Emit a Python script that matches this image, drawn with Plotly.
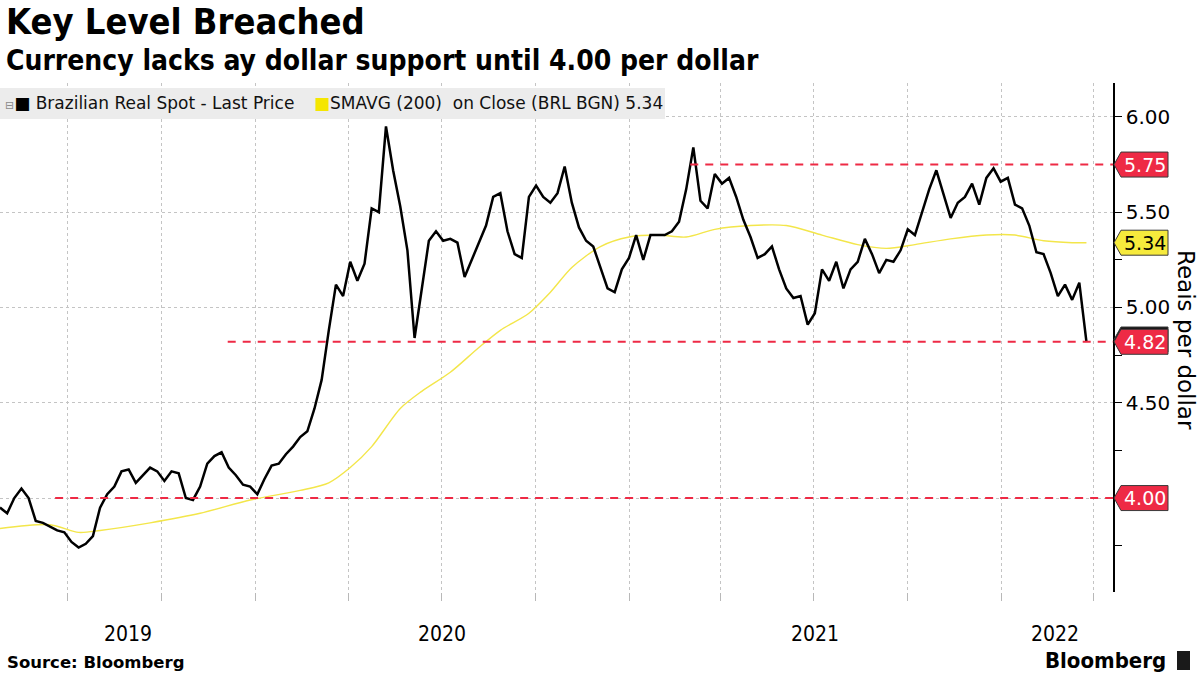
import pandas as pd
import plotly.graph_objects as go

# ---------------- data ----------------
week_start = "2019-04-26"
brl_close = [
    3.95, 3.92, 4.00, 4.05, 4.00, 3.88, 3.87, 3.85, 3.83, 3.82,
    3.77, 3.74, 3.76, 3.80, 3.95, 4.02, 4.06, 4.14, 4.15, 4.08,
    4.12, 4.16, 4.14, 4.09, 4.14, 4.13, 4.00, 3.99, 4.06, 4.18,
    4.22, 4.24, 4.16, 4.12, 4.07, 4.06, 4.02, 4.10, 4.17, 4.18,
    4.23, 4.27, 4.32, 4.35, 4.47, 4.62, 4.88, 5.12, 5.06, 5.24,
    5.14, 5.23, 5.52, 5.50, 5.95, 5.72, 5.53, 5.30, 4.84, 5.10,
    5.35, 5.40, 5.35, 5.36, 5.34, 5.16, 5.25, 5.35, 5.43, 5.58,
    5.60, 5.40, 5.28, 5.26, 5.58, 5.64, 5.58, 5.55, 5.60, 5.74,
    5.55, 5.42, 5.35, 5.32, 5.21, 5.10, 5.08, 5.20, 5.26, 5.38,
    5.25, 5.38, 5.38, 5.38, 5.40, 5.45, 5.62, 5.84, 5.56, 5.52,
    5.70, 5.65, 5.68, 5.58, 5.46, 5.37, 5.26, 5.28, 5.32, 5.20,
    5.10, 5.05, 5.06, 4.91, 4.97, 5.20, 5.14, 5.24, 5.10, 5.20,
    5.24, 5.36, 5.28, 5.18, 5.25, 5.24, 5.30, 5.41, 5.38, 5.50,
    5.62, 5.72, 5.60, 5.47, 5.55, 5.58, 5.65, 5.54, 5.68, 5.73,
    5.66, 5.68, 5.54, 5.52, 5.43, 5.29, 5.28, 5.18, 5.06, 5.12,
    5.04, 5.13, 4.82,
]
brl_dates = pd.date_range(week_start, periods=len(brl_close), freq="7D")

sma_dates = [
    "2019-04-26", "2019-06-14", "2019-07-12", "2019-08-02", "2019-09-20",
    "2019-11-08", "2019-12-27", "2020-02-14", "2020-03-13", "2020-04-03",
    "2020-04-24", "2020-05-22", "2020-06-12", "2020-07-10", "2020-08-07",
    "2020-08-28", "2020-09-25", "2020-10-16", "2020-11-06", "2020-12-04",
    "2021-01-01", "2021-01-29", "2021-02-26", "2021-03-26", "2021-04-30",
    "2021-06-04", "2021-07-09", "2021-08-13", "2021-09-10", "2021-10-08",
    "2021-11-12", "2021-12-17", "2022-01-14", "2022-02-11", "2022-03-11",
    "2022-03-25",
]
sma_200 = [
    3.84, 3.86, 3.82, 3.83, 3.87,
    3.92, 3.99, 4.04, 4.08, 4.16,
    4.27, 4.47, 4.56, 4.66, 4.79,
    4.88, 4.97, 5.08, 5.21, 5.32,
    5.37, 5.38, 5.37, 5.41, 5.43,
    5.43, 5.38, 5.33, 5.31, 5.33,
    5.36, 5.38, 5.38, 5.35, 5.34,
    5.34,
]

level_values = [5.75, 4.82, 4.00]
level_starts = ["2021-03-02", "2019-12-05", "2019-06-19"]
sma_last = 5.34

year_labels = ["2019", "2020", "2021", "2022"]
year_label_dates = ["2019-08-29", "2020-07-02", "2021-07-02", "2022-02-22"]

x_range = ["2019-04-26", "2022-04-20"]
y_range = [3.507, 6.178]
y_tickvals = [4.0, 4.5, 5.0, 5.5, 6.0]
y_ticktext = ["", "4.50", "5.00", "5.50", "6.00"]
y_minor = [3.75, 4.25, 4.75, 5.25, 5.75]

# ---------------- styling ----------------
RED = "#ee2a45"
YELLOW = "#f6ea3c"
SMA_COLOR = "#f3e64a"
GRID = "#c4c4c4"
FONT = "DejaVu Sans"
FONT_C = "DejaVu Sans Condensed"

W, H = 1200, 675
ML, MR, MT, MB = 0, 87, 83, 83
PW = W - ML - MR
PH = H - MT - MB


def px_x(px):
    return (px - ML) / PW


def px_y(py):
    return (H - MB - py) / PH


fig = go.Figure()

fig.add_trace(go.Scatter(
    x=sma_dates, y=sma_200, mode="lines",
    line=dict(color=SMA_COLOR, width=1.4, shape="spline", smoothing=0.8),
    name="SMAVG (200) on Close", hoverinfo="skip", showlegend=False,
))
fig.add_trace(go.Scatter(
    x=brl_dates, y=brl_close, mode="lines",
    line=dict(color="black", width=2.5),
    name="Brazilian Real Spot - Last Price", showlegend=False,
))

shapes = []
# dashed key levels
for v, start in zip(level_values, level_starts):
    shapes.append(dict(
        type="line", xref="x", yref="y", x0=start, x1=x_range[1], y0=v, y1=v,
        line=dict(color=RED, width=2, dash="8px,7px"), layer="above",
    ))

# legend box
shapes.append(dict(
    type="rect", xref="paper", yref="paper",
    x0=px_x(0), x1=px_x(665), y0=px_y(119), y1=px_y(88),
    fillcolor="#ececec", line=dict(width=0), layer="above",
))
# Bloomberg icon
shapes.append(dict(
    type="rect", xref="paper", yref="paper",
    x0=px_x(1177), x1=px_x(1190), y0=px_y(670), y1=px_y(651),
    fillcolor="#1a1a1a", line=dict(width=0), layer="above",
))

annotations = []

half_h = 12.5 / (PH / (y_range[1] - y_range[0]))


def add_tag(v, fill, txt_color, dy=0.0, text=True):
    xt, xb, xr = px_x(1114), px_x(1121), px_x(1168)
    c = v + dy
    path = (f"M {xt},{c} L {xb},{c + half_h} L {xr},{c + half_h} "
            f"L {xr},{c - half_h} L {xb},{c - half_h} Z")
    shapes.append(dict(type="path", xref="paper", yref="y", path=path,
                       fillcolor=fill, line=dict(color="#3a3a3a", width=1),
                       layer="above"))
    if text:
        annotations.append(dict(
            xref="paper", yref="y", x=px_x(1144.5), y=c, text=f"{v:.2f}",
            showarrow=False, xanchor="center", yanchor="middle",
            font=dict(family=FONT, size=19, color=txt_color),
        ))


add_tag(level_values[0], RED, "white")
add_tag(sma_last, YELLOW, "black")
add_tag(level_values[1], "#111111", "white", dy=0.012, text=False)
add_tag(level_values[1], RED, "white")
add_tag(level_values[2], RED, "white")

# titles
annotations.append(dict(
    xref="paper", yref="paper", x=px_x(4), y=px_y(22), text="<b>Key Level Breached</b>",
    showarrow=False, xanchor="left", yanchor="middle",
    font=dict(family=FONT_C, size=36, color="black"),
))
annotations.append(dict(
    xref="paper", yref="paper", x=px_x(4), y=px_y(60),
    text="<b>Currency lacks ay dollar support until 4.00 per dollar</b>",
    showarrow=False, xanchor="left", yanchor="middle",
    font=dict(family=FONT_C, size=28, color="black"),
))

# legend texts
annotations.append(dict(
    xref="paper", yref="paper", x=px_x(3), y=px_y(103.5),
    text=("<span style='color:#8a8a8a;font-size:11px'>\u229f</span>"
          "<span style='color:black'>\u25a0</span>\u00a0Brazilian Real Spot - Last Price"),
    showarrow=False, xanchor="left", yanchor="middle",
    font=dict(family=FONT, size=17, color="#111111"),
))
annotations.append(dict(
    xref="paper", yref="paper", x=px_x(312), y=px_y(103.5),
    text=(f"<span style='color:#f5e600'>\u25a0</span>SMAVG (200)\u00a0\u00a0on Close (BRL BGN) {sma_last:.2f}"),
    showarrow=False, xanchor="left", yanchor="middle",
    font=dict(family=FONT, size=17, color="#111111"),
))

# y-axis title
annotations.append(dict(
    xref="paper", yref="paper", x=px_x(1186), y=px_y(340), text="Reais per dollar",
    showarrow=False, textangle=90, xanchor="center", yanchor="middle",
    font=dict(family=FONT, size=23, color="black"),
))

# year labels
for lab, d in zip(year_labels, year_label_dates):
    annotations.append(dict(
        xref="x", yref="paper", x=d, y=px_y(634), text=lab, showarrow=False,
        xanchor="center", yanchor="middle",
        font=dict(family=FONT_C, size=21, color="black"),
    ))

# footer
annotations.append(dict(
    xref="paper", yref="paper", x=px_x(5), y=px_y(662), text="<b>Source: Bloomberg</b>",
    showarrow=False, xanchor="left", yanchor="middle",
    font=dict(family=FONT, size=16.5, color="black"),
))
annotations.append(dict(
    xref="paper", yref="paper", x=px_x(1168), y=px_y(660), text="<b>Bloomberg</b>",
    showarrow=False, xanchor="right", yanchor="middle",
    font=dict(family=FONT_C, size=22, color="black"),
))

fig.update_layout(
    width=W, height=H,
    margin=dict(l=ML, r=MR, t=MT, b=MB),
    paper_bgcolor="white", plot_bgcolor="white",
    showlegend=False,
    shapes=shapes, annotations=annotations,
    xaxis=dict(
        type="date", range=x_range, tick0="2019-07-01", dtick="M3",
        showticklabels=False, ticks="outside", ticklen=8, tickcolor="#b8b8b8",
        showgrid=True, gridcolor=GRID, griddash="dot", gridwidth=1,
        showline=False, zeroline=False,
    ),
    yaxis=dict(
        side="right", range=y_range, tickmode="array",
        tickvals=y_tickvals, ticktext=y_ticktext,
        ticks="outside", ticklen=7, tickcolor="black", tickwidth=1,
        tickfont=dict(family=FONT, size=20, color="black"),
        showgrid=True, gridcolor=GRID, griddash="dot", gridwidth=1,
        showline=True, linecolor="black", linewidth=1.5,
        zeroline=False,
        minor=dict(tickmode="array", tickvals=y_minor, ticks="outside",
                   ticklen=7, tickcolor="black", showgrid=False),
    ),
)

fig.write_html(
    "out.html",
    config={"displayModeBar": False},
    post_script="document.body.style.margin='0';document.body.style.overflow='hidden';",
)
